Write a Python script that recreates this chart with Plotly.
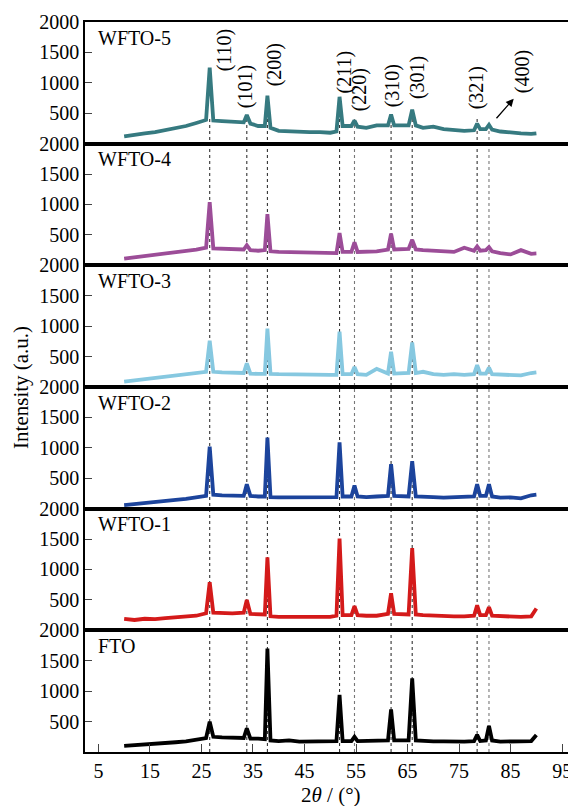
import plotly.graph_objects as go
from plotly.subplots import make_subplots

# ---------------- data ----------------
two_theta = [10, 12, 14, 16, 18, 20, 22, 24, 25.9, 26.6, 27.3, 29, 31, 33.2, 33.8, 34.5,
             36, 37.3, 37.8, 38.4, 40, 42, 44, 46, 48, 50, 51.2, 51.8, 52.4, 54.1, 54.7,
             55.3, 57, 59, 61.2, 61.8, 62.4, 65.2, 65.9, 66.6, 68, 70, 72, 74, 76, 77.9,
             78.5, 79.1, 80.2, 80.8, 81.4, 83, 85, 87, 89, 90]

wfto5 = [120, 150, 170, 190, 220, 250, 290, 340, 390, 1250, 380, 370, 360, 350, 470, 330,
         290, 290, 790, 260, 210, 200, 200, 190, 190, 180, 200, 770, 290, 290, 380,
         280, 260, 300, 300, 480, 300, 300, 560, 300, 260, 280, 240, 230, 210, 220,
         330, 240, 240, 310, 230, 200, 180, 170, 160, 170]
wfto4 = [110, 130, 150, 170, 190, 210, 230, 260, 290, 1040, 280, 270, 270, 260, 330, 250,
         240, 250, 840, 230, 220, 215, 215, 215, 210, 200, 200, 530, 220, 220, 380,
         220, 220, 230, 260, 520, 260, 270, 420, 260, 250, 240, 230, 220, 290, 240,
         310, 240, 250, 300, 230, 200, 180, 250, 190, 195]
wfto3 = [90, 110, 125, 140, 160, 180, 200, 220, 250, 760, 250, 240, 240, 230, 390, 220,
         215, 215, 960, 215, 210, 205, 200, 200, 200, 200, 200, 910, 210, 210, 330,
         210, 200, 300, 220, 580, 220, 230, 730, 230, 250, 210, 200, 210, 200, 210,
         360, 220, 220, 320, 210, 200, 200, 190, 230, 240]
wfto2 = [60, 80, 100, 115, 130, 145, 160, 180, 210, 1020, 230, 220, 210, 210, 400, 210,
         200, 200, 1170, 190, 185, 185, 190, 190, 185, 190, 190, 1090, 200, 200, 380,
         200, 190, 200, 210, 730, 210, 200, 780, 200, 190, 190, 180, 190, 190, 200,
         400, 210, 210, 400, 200, 180, 185, 170, 220, 230]
wfto1 = [190, 170, 190, 185, 200, 210, 220, 240, 280, 790, 290, 280, 280, 290, 500, 270,
         260, 260, 1200, 230, 220, 220, 220, 220, 220, 220, 240, 1510, 250, 250, 400,
         250, 240, 240, 270, 610, 270, 260, 1350, 260, 250, 240, 240, 230, 230, 240,
         410, 250, 250, 380, 240, 230, 220, 220, 230, 360]
fto = [100, 110, 130, 140, 150, 160, 175, 200, 230, 500, 250, 240, 230, 230, 390, 220,
       220, 210, 1700, 190, 180, 190, 170, 170, 170, 170, 180, 940, 180, 180, 250,
       180, 180, 180, 190, 700, 190, 190, 1210, 190, 180, 175, 175, 170, 170, 180,
       280, 180, 190, 430, 190, 170, 170, 170, 180, 280]

samples = ["WFTO-5", "WFTO-4", "WFTO-3", "WFTO-2", "WFTO-1", "FTO"]
series = [wfto5, wfto4, wfto3, wfto2, wfto1, fto]
colors = ["#367a80", "#9c4d98", "#86c8e0", "#1c449c", "#d41a1a", "#000000"]

peak_pos = [26.6, 33.8, 37.8, 51.8, 54.7, 61.8, 65.9, 78.5, 80.8]
peak_labels = ["(110)", "(101)", "(200)", "(211)", "(220)", "(310)", "(301)", "(321)", "(400)"]
label_x = [29.5, 33.55, 39.2, 52.8, 55.7, 62.1, 66.9, 78.4, 87.3]
label_y = [1545, 937, 1298, 1183, 887, 953, 1084, 920, 1183]
line_color = ["#333", "#333", "#333", "#333", "#777", "#333", "#333", "#333", "#777"]
line_top = [420, 420, 420, 420, 420, 420, 420, 420, 310]

yticks = [500, 1000, 1500, 2000]
xticks = list(range(5, 96, 10))

FONT = "Liberation Serif, Times New Roman, serif"
n = len(samples)

fig = make_subplots(rows=n, cols=1, shared_xaxes=True, vertical_spacing=0)

for i, (name, ys, c) in enumerate(zip(samples, series, colors)):
    fig.add_trace(go.Scatter(x=two_theta, y=ys, mode="lines", name=name,
                             line=dict(color=c, width=3.8), showlegend=False),
                  row=i + 1, col=1)
    yref = "y" if i == 0 else f"y{i+1}"
    fig.add_annotation(text=name, x=4.6, xref="x", xanchor="left",
                       y=0.87, yref=f"{yref} domain", yanchor="middle",
                       showarrow=False, font=dict(family=FONT, size=20, color="black"))

for i in range(n):
    fig.update_yaxes(range=[0, 2000], tickvals=yticks, ticks="inside", ticklen=7,
                     tickwidth=1.2, showline=True, linecolor="black", linewidth=1.5,
                     mirror=True, showgrid=False, zeroline=False, automargin=False,
                     tickfont=dict(family=FONT, size=20, color="black"),
                     row=i + 1, col=1)
    fig.update_xaxes(range=[2.4, 97.3], showline=True, linecolor="black", linewidth=1.5,
                     mirror=True, showgrid=False, zeroline=False, automargin=False,
                     ticks="inside" if i == n - 1 else "",
                     tickvals=xticks, ticklen=8, tickwidth=1.2,
                     showticklabels=(i == n - 1),
                     tickfont=dict(family=FONT, size=20, color="black"),
                     row=i + 1, col=1)

# dashed reference lines through all panels
for p, c, top in zip(peak_pos, line_color, line_top):
    fig.add_shape(type="line", xref="x", yref="paper", x0=p, x1=p,
                  y0=0, y1=(n - 1) / n + top / 2000 / n,
                  line=dict(color=c, width=1.1, dash="3px,3px"), layer="below")

# peak labels in the top panel
for t, lx, ly in zip(peak_labels, label_x, label_y):
    fig.add_annotation(text=t, x=lx, y=ly, xref="x", yref="y", textangle=-90,
                       showarrow=False, font=dict(family=FONT, size=20, color="black"))

# arrow pointing to (400)
fig.add_annotation(x=85.6, y=740, ax=82.0, ay=394, xref="x", yref="y",
                   axref="x", ayref="y", text="", showarrow=True,
                   arrowhead=2, arrowsize=1.2, arrowwidth=1.3, arrowcolor="black")

# axis titles
fig.add_annotation(text="Intensity (a.u.)", x=-0.131, y=0.5, xref="paper", yref="paper",
                   xanchor="center", yanchor="middle",
                   textangle=-90, showarrow=False,
                   font=dict(family=FONT, size=21, color="black"))
fig.add_annotation(text="2<i>θ</i> / (°)", x=0.503, y=-0.059, xref="paper", yref="paper",
                   xanchor="center", yanchor="middle", showarrow=False,
                   font=dict(family=FONT, size=21, color="black"))

# the page body has an 8px margin, so the figure is sized/offset to compensate
fig.update_layout(width=568, height=798,
                  margin=dict(l=77, r=2, t=14, b=54, autoexpand=False),
                  paper_bgcolor="white", plot_bgcolor="rgba(0,0,0,0)",
                  font=dict(family=FONT, color="black"))

fig.write_html("out.html")
